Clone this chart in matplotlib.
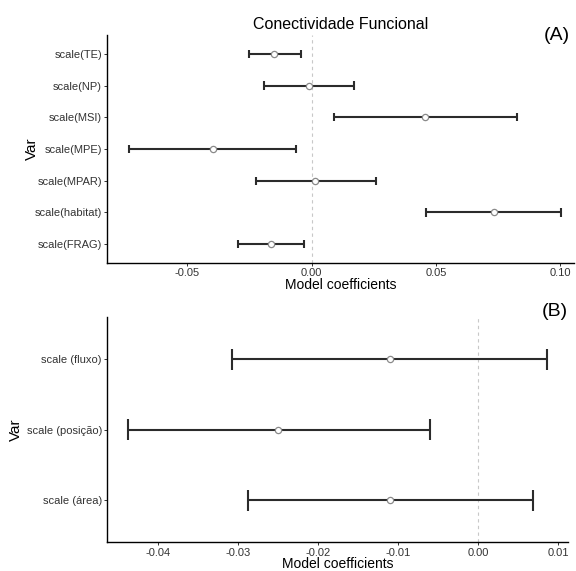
import matplotlib.pyplot as plt

plt.rcParams['font.family'] = ['Liberation Sans', 'DejaVu Sans']

# panel A: landscape metrics (bottom to top)
vars_a = ["scale(FRAG)", "scale(habitat)", "scale(MPAR)", "scale(MPE)",
          "scale(MSI)", "scale(NP)", "scale(TE)"]
est_a = [-0.0164, 0.0732, 0.0015, -0.0399, 0.0457, -0.0010, -0.0151]
low_a = [-0.0295, 0.0460, -0.0223, -0.0737, 0.0088, -0.0194, -0.0254]
high_a = [-0.0030, 0.1003, 0.0257, -0.0062, 0.0826, 0.0171, -0.0043]
ticks_a = [-0.05, 0.00, 0.05, 0.10]

# panel B: flow / position / area (bottom to top)
vars_b = ["scale (área)", "scale (posição)", "scale (fluxo)"]
est_b = [-0.0110, -0.0250, -0.0111]
low_b = [-0.0288, -0.0438, -0.0308]
high_b = [0.0068, -0.0060, 0.0086]
ticks_b = [-0.04, -0.03, -0.02, -0.01, 0.00, 0.01]

def coef_panel(ax, names, est, low, high, ticks, xlim, cap, ylab_x):
    ys = list(range(1, len(names) + 1))
    ax.axvline(0, color="#c8c8c8", lw=0.8, ls=(0, (3, 3)), zorder=0)
    ax.hlines(ys, low, high, color="#2b2b2b", lw=1.5)
    for y, lo, hi in zip(ys, low, high):
        ax.vlines([lo, hi], y - cap, y + cap, color="#2b2b2b", lw=1.5)
    ax.plot(est, ys, "o", mfc="white", mec="#8a8a8a", ms=4.5, mew=0.9)
    ax.set_yticks(ys)
    ax.set_yticklabels(names)
    ax.set_xticks(ticks)
    ax.set_xticklabels(["%.2f" % t for t in ticks])
    ax.set_xlim(*xlim)
    ax.set_ylim(0.4, len(names) + 0.6)
    for s in ["top", "right"]:
        ax.spines[s].set_visible(False)
    for s in ["left", "bottom"]:
        ax.spines[s].set_linewidth(1.0)
    ax.tick_params(labelsize=8, colors="#333333", length=2.5, width=0.7, pad=1.2)
    ax.set_xlabel("Model coefficients", fontsize=10, labelpad=-0.3)
    ax.set_ylabel("Var", fontsize=11)
    ax.yaxis.set_label_coords(ylab_x, 0.5)

fig = plt.figure(figsize=(5.76, 5.71), dpi=100)
ax1 = fig.add_axes([0.186, 0.539, 0.811, 0.400])
ax2 = fig.add_axes([0.186, 0.050, 0.800, 0.395])

coef_panel(ax1, vars_a, est_a, low_a, high_a, ticks_a, (-0.0823, 0.1056), 0.13, -0.146)
coef_panel(ax2, vars_b, est_b, low_b, high_b, ticks_b, (-0.0464, 0.0112), 0.15, -0.182)

ax1.set_title("Conectividade Funcional", fontsize=11.5, pad=4)
fig.text(0.967, 0.937, "(A)", fontsize=14, ha="center", va="center")
fig.text(0.964, 0.454, "(B)", fontsize=14, ha="center", va="center")

fig.savefig("out.png", dpi=100)
